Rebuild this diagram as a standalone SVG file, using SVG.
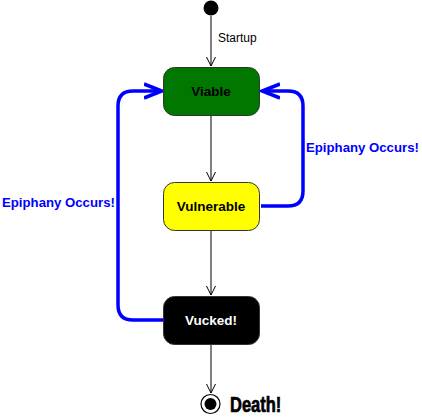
<svg xmlns="http://www.w3.org/2000/svg" width="422" height="419" viewBox="0 0 422 419">
<style>
.node rect{stroke:#333;stroke-width:1}
.lbl{font-family:"Liberation Sans",Arial,sans-serif;font-size:13.5px;font-weight:bold;text-anchor:middle}
.edge{fill:none;stroke:#000;stroke-width:1}
.blue{fill:none;stroke:#0000ff;stroke-width:3.5}
.blbl{font-family:"Liberation Sans",Arial,sans-serif;font-size:13.2px;font-weight:bold;fill:#0000ff}
</style>
<defs>
<marker id="open" markerWidth="12" markerHeight="12" refX="9" refY="4.5" orient="auto" markerUnits="userSpaceOnUse" viewBox="0 0 12 9">
<path d="M0,0 L9,4.5 L0,9" fill="none" stroke="#000" stroke-width="1"/>
</marker>
<marker id="openb" markerWidth="22" markerHeight="18" refX="18" refY="8" orient="auto" markerUnits="userSpaceOnUse" viewBox="0 0 22 16">
<path d="M0,1 L18,8 L0,15" fill="none" stroke="#0000ff" stroke-width="3.5"/>
</marker>
</defs>
<g id="connectors">
<path class="edge" d="M211,16 V66" marker-end="url(#open)"/>
<text x="218" y="42" font-family="Liberation Sans,Arial,sans-serif" font-size="12">Startup</text>
<path class="edge" d="M211,115 V181" marker-end="url(#open)"/>
<path class="edge" d="M211,230 V295" marker-end="url(#open)"/>
<path class="edge" d="M211,344 V393" marker-end="url(#open)"/>
<path class="blue" d="M261,206 H288 Q303,206 303,191 V106 Q303,91 288,91 H262" marker-end="url(#openb)"/>
<text class="blbl" x="306" y="152">Epiphany Occurs!</text>
<path class="blue" d="M163,320 H133 Q118,320 118,305 V106 Q118,91 133,91 H162" marker-end="url(#openb)"/>
<text class="blbl" x="2" y="207">Epiphany Occurs!</text>
</g>
<g id="start"><circle cx="211" cy="8" r="7.5" fill="#000"/></g>
<g id="viable" class="node">
<rect x="163.5" y="67.5" width="96" height="48" rx="11" fill="#007800"/>
<text class="lbl" x="211" y="96">Viable</text>
</g>
<g id="vulnerable" class="node">
<rect x="163.5" y="182.5" width="96" height="48" rx="11" fill="#ffff00"/>
<text class="lbl" x="211" y="211">Vulnerable</text>
</g>
<g id="vucked" class="node">
<rect x="163.5" y="296.5" width="96" height="48" rx="11" fill="#000"/>
<text class="lbl" x="211" y="325" fill="#fff">Vucked!</text>
</g>
<g id="end">
<circle cx="210.5" cy="404" r="9.5" fill="#fff" stroke="#000" stroke-width="1.2"/>
<circle cx="210.5" cy="404" r="6" fill="#000"/>
<text x="0" y="0" font-family="Liberation Sans,Arial,sans-serif" font-weight="bold" font-size="22" stroke="#000" stroke-width="0.7" transform="translate(230 412) scale(0.75 1)">Death!</text>
</g>
</svg>
